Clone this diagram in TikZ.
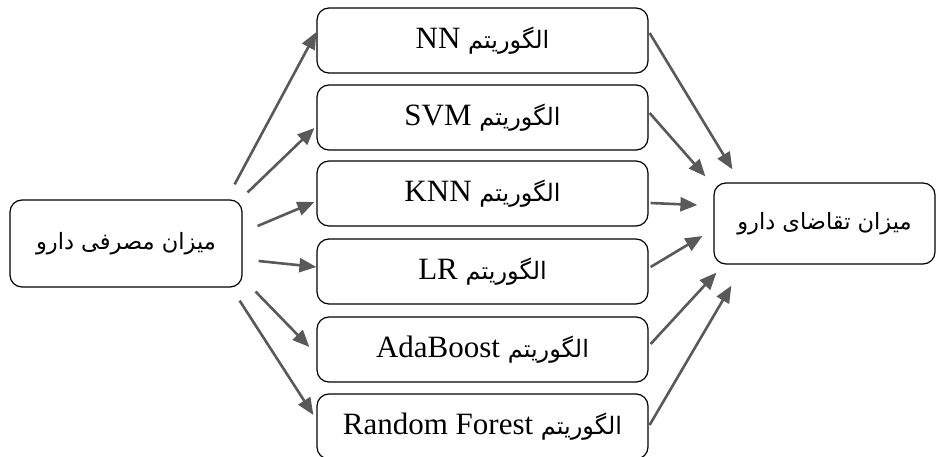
\documentclass[tikz,border=0pt]{standalone}
\usepackage{fontspec}
\setmainfont{Liberation Serif}
\newfontfamily\arabicfont[Script=Arabic]{DejaVu Sans}
\TeXXeTstate=1
\usetikzlibrary{arrows.meta}
\definecolor{arrowgray}{HTML}{595959}
\newcommand{\artxt}[1]{{\arabicfont\fontsize{24}{28}\selectfont\beginR #1\endR}}
\newcommand{\bigartxt}[1]{{\arabicfont\fontsize{22.5}{27}\selectfont\beginR #1\endR}}
\newcommand{\algtxt}[1]{\beginR\artxt{الگوریتم}\ \beginL #1\endL\endR}
\tikzset{
  box/.style={draw=black, line width=1.2pt, rounded corners=12pt, inner sep=0pt,
    font=\fontsize{31}{36}\selectfont},
  midbox/.style={box, minimum width=331pt, minimum height=65pt},
  conn/.style={draw=arrowgray, line width=2.6pt, -{Triangle[length=17pt,width=14pt]}},
}
\begin{document}
\begin{tikzpicture}[x=1pt,y=-1pt]
\useasboundingbox (0,0) rectangle (936,457);
\node[box, minimum width=232pt, minimum height=87pt] (src) at (126,243.5) {\bigartxt{میزان مصرفی دارو}};
\node[midbox] (nn)  at (482.5,40.5)  {\algtxt{NN}};
\node[midbox] (svm) at (482.5,117.5) {\algtxt{SVM}};
\node[midbox] (knn) at (482.5,193.5) {\algtxt{KNN}};
\node[midbox] (lr)  at (482.5,271.5) {\algtxt{LR}};
\node[midbox] (ada) at (482.5,349.5) {\algtxt{AdaBoost}};
\node[midbox] (rf)  at (482.5,426.5) {\algtxt{Random Forest}};
\node[box, minimum width=221pt, minimum height=81pt] (out) at (824.5,223.5) {\bigartxt{میزان تقاضای دارو}};
% free starting points near the source box
\coordinate (s1) at ([xshift=-8pt,yshift=15pt]src.north east);
\coordinate (s2) at ([xshift=5pt,yshift=7pt]src.north east);
\coordinate (s3) at ([xshift=15pt,yshift=17.5pt]src.east);
\coordinate (s4) at ([xshift=16pt,yshift=-17.5pt]src.east);
\coordinate (s5) at ([xshift=13pt,yshift=-4pt]src.south east);
\coordinate (s6) at ([xshift=-3pt,yshift=-13pt]src.south east);
% free tips near the output box
\coordinate (t1) at ([xshift=19pt,yshift=13pt]out.north west);
\coordinate (t2) at ([xshift=-8pt,yshift=6pt]out.north west);
\coordinate (t3) at ([xshift=-16pt,yshift=18.5pt]out.west);
\coordinate (t4) at ([xshift=-11pt,yshift=-12.5pt]out.west);
\coordinate (t5) at ([xshift=3pt,yshift=-8pt]out.south west);
\coordinate (t6) at ([xshift=18pt,yshift=-21pt]out.south west);
% left arrows
\draw[conn] (s1) -- ([yshift=8.5pt]nn.west);
\draw[conn] (s2) -- ([xshift=-2pt,yshift=-10.5pt]svm.west);
\draw[conn] (s3) -- ([xshift=-2pt,yshift=-8.5pt]knn.west);
\draw[conn] (s4) -- ([yshift=4.5pt]lr.west);
\draw[conn] (s5) -- ([xshift=-7pt,yshift=2.5pt]ada.west);
\draw[conn] (s6) -- ([xshift=-3pt,yshift=11.5pt]rf.west);
% right arrows
\draw[conn] ([xshift=1pt,yshift=7.5pt]nn.east) -- (t1);
\draw[conn] ([xshift=1pt,yshift=4.5pt]svm.east) -- (t2);
\draw[conn] ([xshift=2pt,yshift=-9.5pt]knn.east) -- (t3);
\draw[conn] ([xshift=2pt,yshift=4.5pt]lr.east) -- (t4);
\draw[conn] ([xshift=2pt,yshift=5.5pt]ada.east) -- (t5);
\draw[conn] ([xshift=1pt,yshift=1.5pt]rf.east) -- (t6);
\end{tikzpicture}
\end{document}
